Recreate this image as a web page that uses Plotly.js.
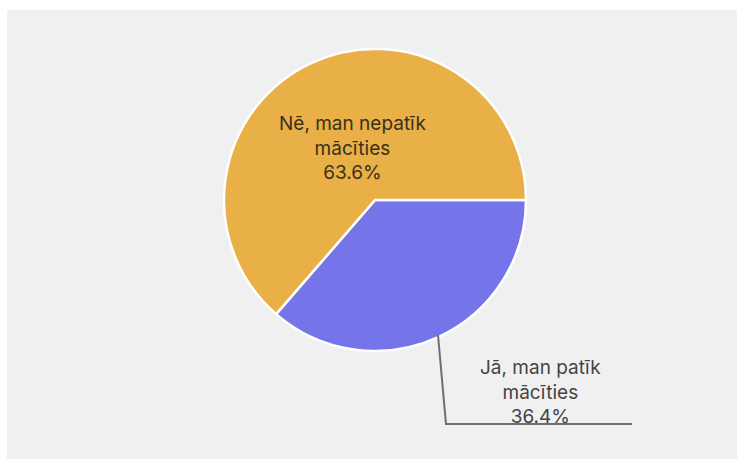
<!DOCTYPE html>
<html>
<head>
<meta charset="utf-8">
<script src="https://cdn.plot.ly/plotly-3.0.1.min.js"></script>
<style>
  html, body { margin: 0; padding: 0; background: #ffffff; }
  #chart { position: absolute; left: 7px; top: 10px; width: 730px; height: 449px; }
</style>
</head>
<body>
<div id="chart"></div>
<script>
// Data
const labels = ["Jā, man patīk<br>mācīties", "Nē, man nepatīk<br>mācīties"];
const values = [4, 7];
const colors = ["#7674E9", "#E8B046"];

const W = 730, H = 449;
const px = x => (x - 7) / W;
const py = y => 1 - (y - 10) / H;

// pie geometry (page pixels)
const cx = 375, cy = 200, r = 151;

const total = values.reduce((a, b) => a + b, 0);
const pct = values.map(v => (100 * v / total).toFixed(1) + "%");

const trace = {
  type: "pie",
  labels: labels,
  values: values,
  sort: false,
  direction: "clockwise",
  rotation: 90,
  textinfo: "none",
  hoverinfo: "label+percent",
  marker: { colors: colors, line: { color: "#ffffff", width: 2.5 } },
  domain: { x: [px(cx - r), px(cx + r)], y: [py(cy + r), py(cy - r)] },
  showlegend: false
};

const annotations = [
  {
    x: px(540), y: py(392), xref: "paper", yref: "paper",
    text: labels[0] + "<br>" + pct[0], showarrow: false,
    font: { family: "Inter, 'Noto Sans', sans-serif", size: 19, color: "#444444" },
    align: "center", xanchor: "center", yanchor: "middle"
  },
  {
    x: px(352), y: py(148), xref: "paper", yref: "paper",
    text: labels[1] + "<br>" + pct[1], showarrow: false,
    font: { family: "Inter, 'Noto Sans', sans-serif", size: 19, color: "#3a2f1c" },
    align: "center", xanchor: "center", yanchor: "middle"
  }
];

const shapes = [
  {
    type: "path", xref: "paper", yref: "paper",
    path: `M ${px(438)} ${py(335)} L ${px(446)} ${py(424)} L ${px(632)} ${py(424)}`,
    line: { color: "#6e6e6e", width: 2 }
  }
];

const layout = {
  width: W, height: H,
  margin: { l: 0, r: 0, t: 0, b: 0 },
  paper_bgcolor: "#f0f0f0",
  annotations: annotations,
  shapes: shapes
};

Plotly.newPlot("chart", [trace], layout, { displayModeBar: false, staticPlot: true });
</script>
</body>
</html>
